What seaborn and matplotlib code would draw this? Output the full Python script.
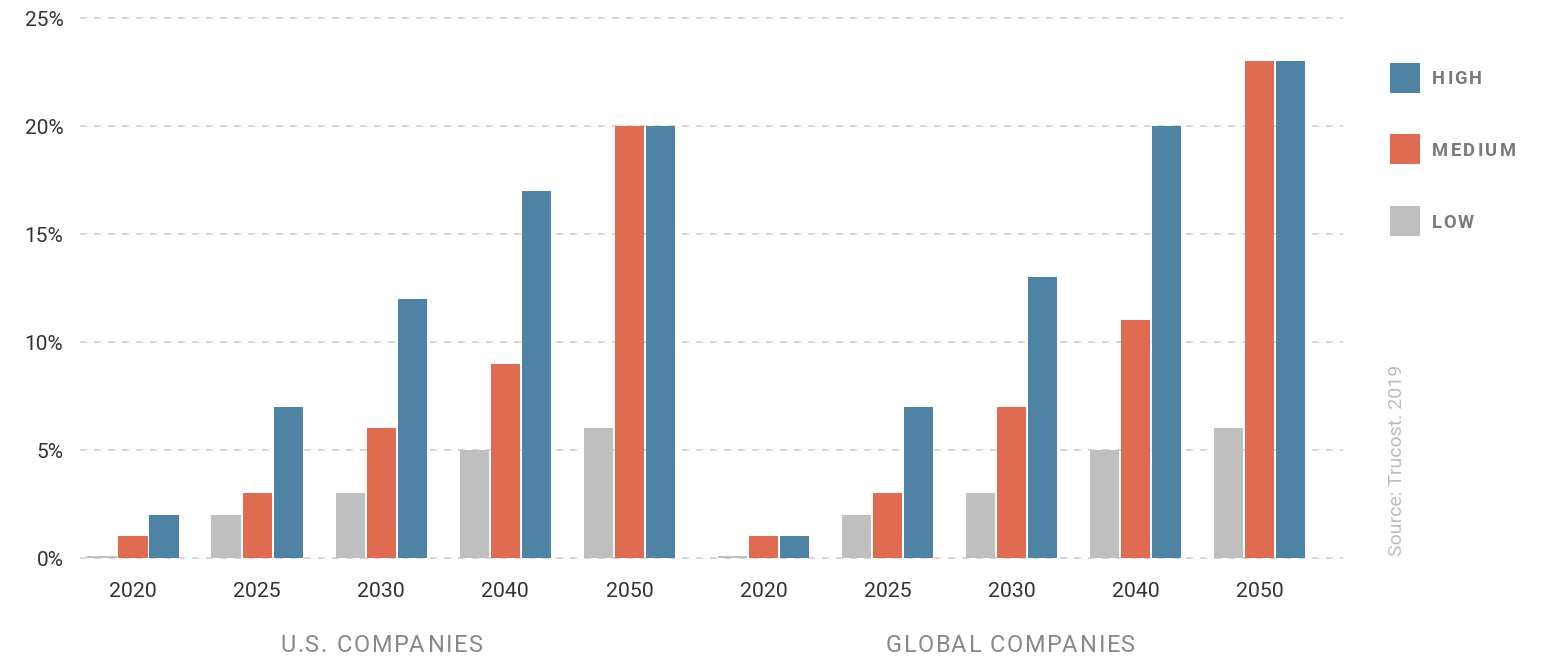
import numpy as np
import pandas as pd
import seaborn as sns
import matplotlib
matplotlib.use("Agg")
import matplotlib.pyplot as plt
from matplotlib.patches import Rectangle
from matplotlib.font_manager import FontProperties, findfont, get_font
import matplotlib.transforms as mtransforms

# ---- data ----
years = ["2020", "2025", "2030", "2040", "2050"]
groups = ["U.S. COMPANIES", "GLOBAL COMPANIES"]
levels = ["LOW", "MEDIUM", "HIGH"]
us_low = [0.1, 2, 3, 5, 6]
us_medium = [1, 3, 6, 9, 20]
us_high = [2, 7, 12, 17, 20]
global_low = [0.1, 2, 3, 5, 6]
global_medium = [1, 3, 7, 11, 23]
global_high = [1, 7, 13, 20, 23]
y_ticks = [0, 5, 10, 15, 20, 25]
source_text = "Source: Trucost. 2019"

colors = {"LOW": "#bfbfbf", "MEDIUM": "#df6b50", "HIGH": "#4e83a5"}

sns.set_theme(style="white")
plt.rcParams["font.family"] = ["Roboto", "DejaVu Sans"]

block_offset = 5.08
series = {
    ("U.S. COMPANIES", "LOW"): us_low,
    ("U.S. COMPANIES", "MEDIUM"): us_medium,
    ("U.S. COMPANIES", "HIGH"): us_high,
    ("GLOBAL COMPANIES", "LOW"): global_low,
    ("GLOBAL COMPANIES", "MEDIUM"): global_medium,
    ("GLOBAL COMPANIES", "HIGH"): global_high,
}
rows = []
for gi, g in enumerate(groups):
    for lv in levels:
        for yi, (yr, v) in enumerate(zip(years, series[(g, lv)])):
            rows.append({"pos": round(gi * block_offset + yi, 3), "level": lv,
                         "value": v, "year": yr, "group": g})
df = pd.DataFrame(rows)

W, H = 1554, 656
PX_PER_PT = 100 / 72
fig = plt.figure(figsize=(W / 100, H / 100), dpi=100)
ax = fig.add_axes([80 / W, 1 - 558 / H, (1343 - 80) / W, (558 - 18) / H])

sns.barplot(data=df, x="pos", y="value", hue="level", hue_order=levels,
            palette=colors, native_scale=True, width=0.75, gap=0.06,
            dodge=True, legend=False, ax=ax, saturation=1, linewidth=0)

ax.set_xlim(-0.427, 9.75)
ax.set_ylim(0, 25)
ax.set_axisbelow(True)
ax.yaxis.grid(True, color="#d6d6d6", linewidth=1.4, linestyle=(0, (3.6, 3.6)))
ax.xaxis.grid(False)
for s in ax.spines.values():
    s.set_visible(False)
for gl in ax.get_ygridlines():
    gl.set_clip_on(False)

ax.set_yticks(y_ticks, [f"{t}%" for t in y_ticks])
pos_ticks = sorted(df["pos"].unique())
ax.set_xticks(pos_ticks, years * 2)
ax.tick_params(axis="y", length=0, pad=12, labelsize=15, labelcolor="#333333")
ax.tick_params(axis="x", length=0, pad=17, labelsize=15.3, labelcolor="#333333")
ax.set_xlabel("")
ax.set_ylabel("")


def spaced_text(x_left, x_right, baseline_y, s, size, color, weight="normal"):
    """Draw letter-spaced text between pixel x_left and x_right, baseline at pixel y."""
    fp = FontProperties(family=["Roboto"], size=size, weight=weight)
    font = get_font(findfont(fp))
    font.set_size(size, 72)
    advs, bears = [], []
    for ch in s:
        g = font.load_char(ord(ch))
        advs.append(g.linearHoriAdvance / 65536 * PX_PER_PT)
        bears.append(g.horiBearingX / 64 * PX_PER_PT)
    natural = sum(advs)
    spacing = (x_right - x_left - natural) / max(len(s) - 1, 1)
    pen = x_left - bears[0]
    for ch, a, b in zip(s, advs, bears):
        if ch != " ":
            fig.text((pen + b) / W, 1 - baseline_y / H, ch, ha="left", va="baseline",
                     fontproperties=fp, color=color)
        pen += a + spacing


# group labels
spaced_text(280, 483, 652, groups[0], 16.9, "#888888")
spaced_text(886, 1135, 652, groups[1], 16.9, "#888888")

# legend (manual, order HIGH / MEDIUM / LOW)
legend_rows = [("HIGH", 63, 1482), ("MEDIUM", 134, 1516), ("LOW", 206, 1475)]
for lv, top, right in legend_rows:
    fig.patches.append(Rectangle((1390 / W, 1 - (top + 30) / H), 30 / W, 30 / H,
                                 transform=fig.transFigure, facecolor=colors[lv],
                                 edgecolor="none"))
    spaced_text(1432, right, top + 21.5, lv, 13.2, "#7a7a7a", weight="bold")

# source
fig.text(1397 / W, 1 - 556 / H, source_text, rotation=90, ha="center", va="bottom",
         fontsize=14, color="#bdbdbd")

fig.savefig("out.png", dpi=100)
